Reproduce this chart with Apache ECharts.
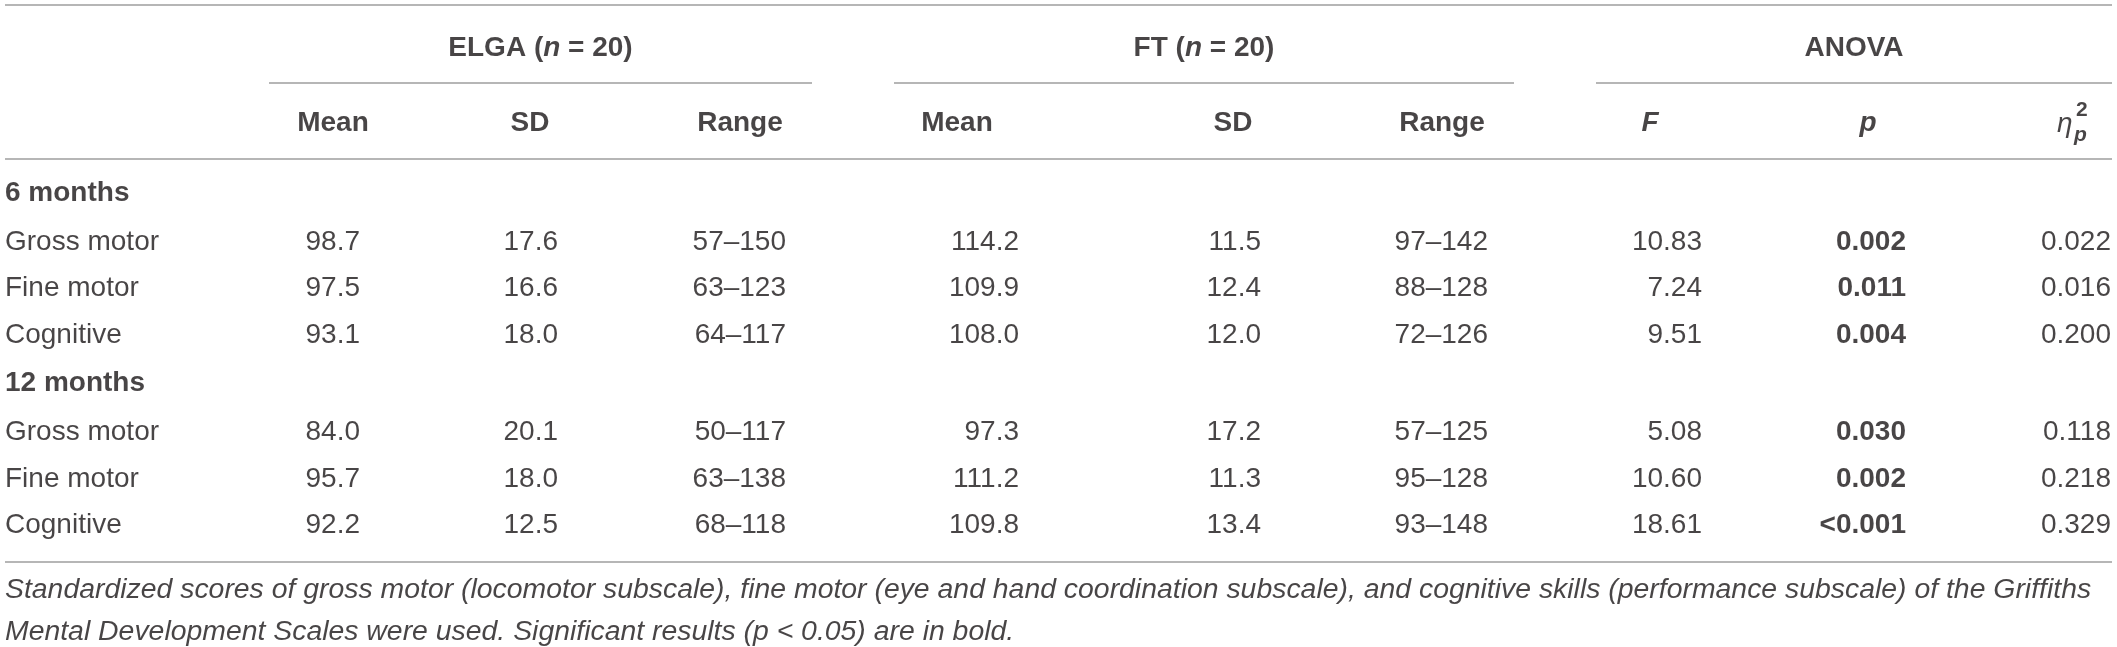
<!DOCTYPE html>
<html>
<head>
<meta charset="utf-8">
<script src="https://cdn.jsdelivr.net/npm/echarts@6/dist/echarts.min.js"></script>
<style>
  html, body { margin: 0; padding: 0; background: #fff; }
  #main { width: 2117px; height: 647px; }
</style>
</head>
<body>
<div id="main"></div>
<script>
// table values
var groups = ['6 months', '12 months'];
var measures = ['Gross motor', 'Fine motor', 'Cognitive'];
var elgaMean = [98.7, 97.5, 93.1, 84.0, 95.7, 92.2];
var elgaSD = [17.6, 16.6, 18.0, 20.1, 18.0, 12.5];
var elgaRange = ['57–150', '63–123', '64–117', '50–117', '63–138', '68–118'];
var ftMean = [114.2, 109.9, 108.0, 97.3, 111.2, 109.8];
var ftSD = [11.5, 12.4, 12.0, 17.2, 11.3, 13.4];
var ftRange = ['97–142', '88–128', '72–126', '57–125', '95–128', '93–148'];
var fValue = [10.83, 7.24, 9.51, 5.08, 10.60, 18.61];
var pValue = ['0.002', '0.011', '0.004', '0.030', '0.002', '<0.001'];
var etaValue = ['0.022', '0.016', '0.200', '0.118', '0.218', '0.329'];
var subHeads = ['Mean', 'SD', 'Range', 'Mean', 'SD', 'Range', 'F', 'p'];
var footnote = [
  'Standardized scores of gross motor (locomotor subscale), fine motor (eye and hand coordination subscale), and cognitive skills (performance subscale) of the Griffiths',
  'Mental Development Scales were used. Significant results (p < 0.05) are in bold.'
];

// layout (pixels, same units as the hidden axes)
var W = 2117, H = 647;
var colRight = [360, 558, 786, 1019, 1261, 1488, 1702, 1906, 2111];
var colHead = [333, 530, 740, 957, 1233, 1442, 1650, 1868, 2075];
var rowY = [193, 242, 288, 335, 383, 432, 479, 525];
var groupHeadY = 48, subHeadY = 123, footY = [590, 632];
var rules = [
  [5, 5, 2112, 5], [269, 83, 812, 83], [894, 83, 1514, 83], [1596, 83, 2112, 83],
  [5, 159, 2112, 159], [5, 562, 2112, 562]
];
var FONT = '"Liberation Sans", Arial, Helvetica, sans-serif';
var INK = '#1a1718';

var myChart = echarts.init(document.getElementById('main'));

function cell (x, y, text, align, extra) {
  var lab = { show: true, position: [0, 0], align: align, verticalAlign: 'middle', formatter: text };
  for (var k in extra) lab[k] = extra[k];
  return { value: [x, y], label: lab };
}

var cells = [];
// group headers
var groupNames = [
  '{b|ELGA (}{bi|n}{b| = 20)}',
  '{b|FT (}{bi|n}{b| = 20)}',
  '{b|ANOVA}'
];
var groupCenter = [(269 + 812) / 2, (894 + 1514) / 2, (1596 + 2112) / 2];
for (var g = 0; g < 3; g++) {
  cells.push(cell(groupCenter[g], groupHeadY, groupNames[g], 'center', {}));
}
// sub headers
for (var c = 0; c < subHeads.length; c++) {
  var italic = (subHeads[c] == 'F' || subHeads[c] == 'p');
  cells.push(cell(colHead[c], subHeadY, subHeads[c], 'center',
    { fontWeight: 'bold', fontStyle: italic ? 'italic' : 'normal' }));
}
// eta squared partial
cells.push(cell(colHead[8] - 18, subHeadY + 1, 'η', 'left', { fontStyle: 'italic' }));
cells.push(cell(colHead[8] - 1, subHeadY + 12, 'p', 'left', { fontStyle: 'italic', fontWeight: 'bold', fontSize: 21 }));
cells.push(cell(colHead[8] + 1, subHeadY - 13, '2', 'left', { fontWeight: 'bold', fontSize: 21 }));

// body rows
for (var i = 0; i < 6; i++) {
  var gi = i < 3 ? 0 : 1;
  var r = i < 3 ? i + 1 : i + 2;
  var y = rowY[r];
  if (i % 3 == 0) cells.push(cell(5, rowY[r - 1], groups[gi], 'left', { fontWeight: 'bold' }));
  cells.push(cell(5, y, measures[i % 3], 'left', {}));
  var vals = [
    elgaMean[i].toFixed(1), elgaSD[i].toFixed(1), elgaRange[i],
    ftMean[i].toFixed(1), ftSD[i].toFixed(1), ftRange[i],
    fValue[i].toFixed(2), pValue[i], etaValue[i]
  ];
  for (var c2 = 0; c2 < vals.length; c2++) {
    cells.push(cell(colRight[c2], y, vals[c2], 'right', c2 == 7 ? { fontWeight: 'bold' } : {}));
  }
}
// footnote
for (var f = 0; f < footnote.length; f++) {
  cells.push(cell(5, footY[f], footnote[f], 'left', { fontStyle: 'italic', fontSize: 28.4 }));
}

var ruleData = [];
for (var j = 0; j < rules.length; j++) {
  ruleData.push({ coords: [[rules[j][0], rules[j][1]], [rules[j][2], rules[j][3]]] });
}

var option = {
  animation: false,
  backgroundColor: '#fff',
  grid: { left: 0, right: 0, top: 0, bottom: 0 },
  xAxis: { type: 'value', min: 0, max: W, show: false },
  yAxis: { type: 'value', min: 0, max: H, inverse: true, show: false },
  series: [
    {
      type: 'lines',
      coordinateSystem: 'cartesian2d',
      lineStyle: { color: '#9e9e9e', width: 1.6, opacity: 1 },
      data: ruleData,
      silent: true
    },
    {
      type: 'scatter',
      symbolSize: 0,
      silent: true,
      label: {
        show: true,
        color: INK,
        fontFamily: FONT,
        fontSize: 28,
        rich: {
          b: { fontWeight: 'bold', fontSize: 28, fontFamily: FONT, color: INK },
          bi: { fontWeight: 'bold', fontStyle: 'italic', fontSize: 28, fontFamily: FONT, color: INK }
        }
      },
      data: cells
    }
  ]
};
myChart.setOption(option);
</script>
</body>
</html>
